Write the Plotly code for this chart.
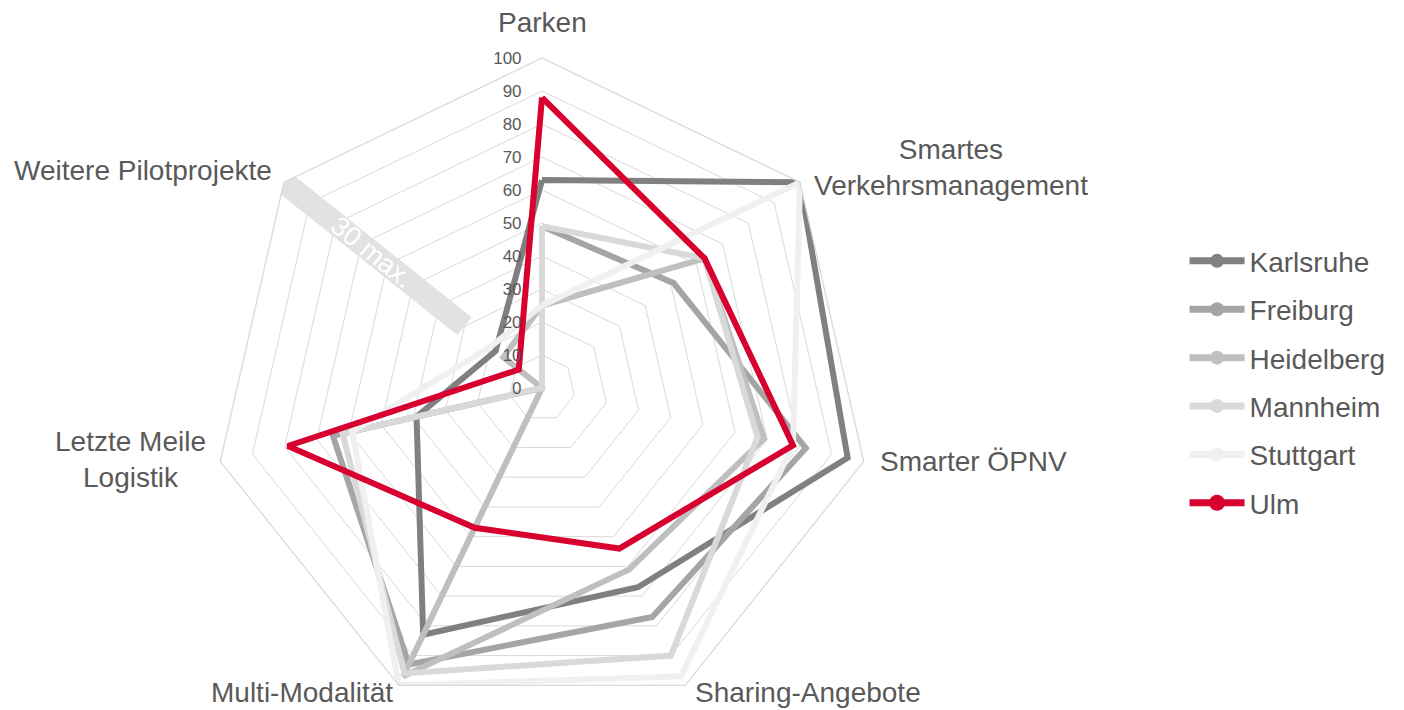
import math
import plotly.graph_objects as go

# axes of the radar, clockwise from the top
categories = [
    "Parken",
    "Smartes Verkehrsmanagement",
    "Smarter ÖPNV",
    "Sharing-Angebote",
    "Multi-Modalität",
    "Letzte Meile Logistik",
    "Weitere Pilotprojekte",
]
label_text = [
    "Parken",
    "Smartes<br>Verkehrsmanagement",
    "Smarter ÖPNV",
    "Sharing-Angebote",
    "Multi-Modalität",
    "Letzte Meile<br>Logistik",
    "Weitere Pilotprojekte",
]

karlsruhe = [63, 100, 95, 67, 83, 39, 18]
freiburg = [49, 51, 82, 77, 93, 65, 0]
heidelberg = [25, 63, 69, 61, 97, 0, 15]
mannheim = [49, 63, 67, 90, 96, 62, 0]
stuttgart = [25, 100, 78, 97, 100, 59, 20]
ulm = [88, 63, 78, 54, 47, 79, 9]

cities = ["Karlsruhe", "Freiburg", "Heidelberg", "Mannheim", "Stuttgart", "Ulm"]
series = [karlsruhe, freiburg, heidelberg, mannheim, stuttgart, ulm]
colors = ["#808080", "#a5a5a5", "#bfbfbf", "#d9d9d9", "#f0f0f0", "#d7002f"]

# "30 max." band on the last axis
band_range = [30, 100]
band_text = "30 max."
band_text_r = 66

radial_ticks = list(range(0, 101, 10))

W, H = 1404, 710
CX, CY, R = 534, 380, 330
TEXT = "#595959"
FONT = "Liberation Sans, Arial, sans-serif"

fig = go.Figure()

fig.add_trace(go.Scatterpolar(
    r=band_range, theta=[categories[-1]] * 2, mode="lines",
    line=dict(color="#e2e2e2", width=23), hoverinfo="skip", showlegend=False,
))

for name, vals, col in zip(cities, series, colors):
    fig.add_trace(go.Scatterpolar(
        r=vals + vals[:1], theta=categories + categories[:1], mode="lines",
        line=dict(color=col, width=6), name=name, showlegend=False,
    ))

# legend entries (line + dot like the original)
for name, col in zip(cities, colors):
    fig.add_trace(go.Scatterpolar(
        r=[None], theta=[None], mode="lines+markers", name=name,
        legendgroup=name,
        line=dict(color=col, width=7),
        marker=dict(color=col, size=18 if name == "Ulm" else 14),
    ))

# axis labels as annotations, placed at the vertices
label_pos = [
    ("center", "bottom", 0, 18),
    ("left", "middle", 12, 15),
    ("left", "middle", 14, 0),
    ("left", "middle", 8, -7),
    ("right", "middle", -4, -7),
    ("right", "middle", -12, 2),
    ("right", "middle", -10, 12),
]
n = len(categories)
for k, (txt, (xa, ya, xs, ys)) in enumerate(zip(label_text, label_pos)):
    a = math.radians(90 - k * 360 / n)
    px = CX + R * math.cos(a)
    py = CY - R * math.sin(a)
    fig.add_annotation(
        x=px / W, y=1 - py / H, xref="paper", yref="paper", text=txt,
        showarrow=False, xanchor=xa, yanchor=ya, xshift=xs, yshift=ys,
        align="center", font=dict(family=FONT, size=28, color=TEXT),
    )

a = math.radians(90 - (n - 1) * 360 / n)
d = R * band_text_r / 100
fig.add_annotation(
    x=(CX + d * math.cos(a)) / W, y=1 - (CY - d * math.sin(a)) / H,
    xref="paper", yref="paper", text=band_text, showarrow=False,
    xanchor="center", yanchor="middle",
    textangle=-math.degrees(a) - 180,
    font=dict(family=FONT, size=27, color="white"),
)

fig.update_layout(
    width=W, height=H,
    margin=dict(l=0, r=0, t=0, b=0),
    paper_bgcolor="white",
    font=dict(family=FONT, color=TEXT),
    polar=dict(
        domain=dict(x=[(CX - R) / W, (CX + R) / W], y=[(H - CY - R) / H, (H - CY + R) / H]),
        bgcolor="white",
        gridshape="linear",
        radialaxis=dict(
            range=[0, 100], tickvals=radial_ticks, angle=90, tickangle=90,
            showline=False, ticks="outside", ticklen=14, tickcolor="rgba(0,0,0,0)",
            gridcolor="#d9d9d9", gridwidth=1.3, side="counterclockwise",
            tickfont=dict(family=FONT, size=17, color=TEXT),
        ),
        angularaxis=dict(
            rotation=90, direction="clockwise", showticklabels=False,
            categoryorder="array", categoryarray=categories,
            showgrid=False, showline=True, linecolor="#d9d9d9", linewidth=1.3,
            ticks="",
        ),
    ),
    legend=dict(
        x=0.838, y=0.473, xanchor="left", yanchor="middle",
        font=dict(family=FONT, size=28, color=TEXT),
        itemwidth=55, tracegroupgap=9, traceorder="grouped",
        bgcolor="rgba(0,0,0,0)",
    ),
)

fig.write_html("out.html")
